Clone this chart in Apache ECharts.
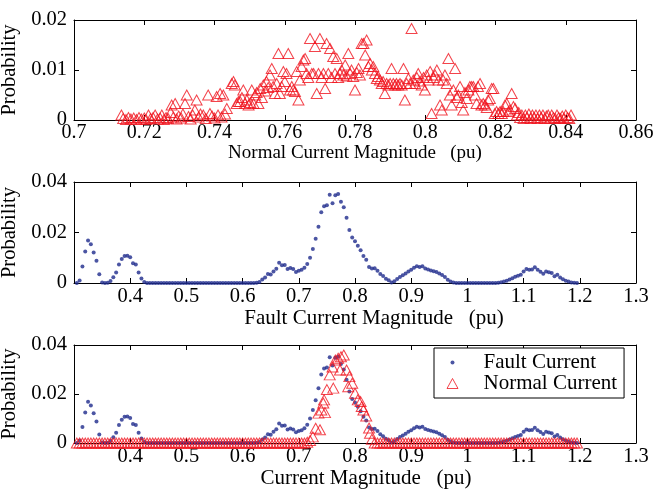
<!DOCTYPE html>
<html><head><meta charset="utf-8">
<script src="https://cdn.jsdelivr.net/npm/echarts@6/dist/echarts.min.js"></script>
<style>html,body{margin:0;padding:0;background:#fff}#c{width:657px;height:489px}</style>
</head><body><div id="c"></div>
<script>
// ---- Top panel: normal current magnitude distribution (x, probability)
const normalTop = [
[0.7135,0.0010],[0.7140,0.0003],[0.7148,0.0001],[0.7155,0.0005],[0.7162,0.0002],[0.7170,0.0004],[0.7178,0.0001],[0.7185,0.0005],[0.7192,0.0002],[0.7200,0.0004],
[0.7205,0.0001],[0.7212,0.0010],[0.7218,0.0003],[0.7225,0.0005],[0.7231,0.0010],[0.7238,0.0002],[0.7245,0.0004],[0.7250,0.0010],[0.7256,0.0001],[0.7262,0.0005],
[0.7268,0.0003],[0.7275,0.0015],[0.7278,0.0030],[0.7283,0.0006],[0.7288,0.0033],[0.7292,0.0002],[0.7298,0.0008],[0.7305,0.0004],[0.7310,0.0012],[0.7316,0.0033],
[0.7321,0.0050],[0.7326,0.0007],[0.7332,0.0002],[0.7338,0.0010],[0.7344,0.0020],[0.7349,0.0040],[0.7355,0.0006],[0.7360,0.0012],[0.7368,0.0010],[0.7375,0.0003],
[0.7382,0.0050],[0.7387,0.0013],[0.7393,0.0008],[0.7400,0.0004],[0.7406,0.0047],[0.7410,0.0010],[0.7416,0.0053],[0.7420,0.0006],[0.7425,0.0050],[0.7430,0.0012],
[0.7435,0.0023],[0.7449,0.0073],[0.7454,0.0077],[0.7458,0.0070],[0.7463,0.0033],[0.7468,0.0037],[0.7473,0.0037],[0.7478,0.0045],[0.7482,0.0060],[0.7487,0.0033],
[0.7492,0.0040],[0.7497,0.0030],[0.7502,0.0035],[0.7506,0.0060],[0.7511,0.0033],[0.7516,0.0050],[0.7520,0.0055],[0.7525,0.0033],[0.7530,0.0063],[0.7535,0.0045],
[0.7539,0.0070],[0.7544,0.0058],[0.7548,0.0077],[0.7553,0.0065],[0.7558,0.0090],[0.7563,0.0103],[0.7567,0.0067],[0.7572,0.0053],[0.7577,0.0073],[0.7582,0.0133],
[0.7586,0.0053],[0.7591,0.0067],[0.7596,0.0097],[0.7600,0.0077],[0.7605,0.0093],[0.7610,0.0133],[0.7615,0.0060],[0.7620,0.0067],[0.7624,0.0060],[0.7629,0.0057],
[0.7634,0.0097],[0.7639,0.0040],[0.7643,0.0080],[0.7648,0.0107],[0.7653,0.0120],[0.7658,0.0123],[0.7662,0.0093],[0.7667,0.0085],[0.7672,0.0163],[0.7677,0.0093],
[0.7682,0.0093],[0.7686,0.0147],[0.7691,0.0053],[0.7696,0.0093],[0.7700,0.0163],[0.7705,0.0085],[0.7710,0.0093],[0.7715,0.0063],[0.7719,0.0153],[0.7724,0.0093],
[0.7729,0.0143],[0.7733,0.0085],[0.7738,0.0127],[0.7743,0.0093],[0.7748,0.0123],[0.7752,0.0085],[0.7757,0.0093],[0.7762,0.0100],[0.7767,0.0090],[0.7772,0.0110],
[0.7776,0.0088],[0.7781,0.0133],[0.7786,0.0093],[0.7790,0.0100],[0.7795,0.0087],[0.7800,0.0060],[0.7805,0.0095],[0.7810,0.0103],[0.7814,0.0090],[0.7819,0.0153],
[0.7824,0.0153],[0.7829,0.0130],[0.7833,0.0160],[0.7838,0.0107],[0.7843,0.0113],[0.7848,0.0100],[0.7852,0.0107],[0.7857,0.0093],[0.7862,0.0083],[0.7866,0.0087],
[0.7871,0.0080],[0.7876,0.0073],[0.7880,0.0077],[0.7885,0.0053],[0.7890,0.0073],[0.7895,0.0070],[0.7900,0.0073],[0.7904,0.0103],[0.7909,0.0073],[0.7914,0.0070],
[0.7918,0.0073],[0.7923,0.0070],[0.7928,0.0073],[0.7933,0.0070],[0.7938,0.0103],[0.7942,0.0040],[0.7947,0.0073],[0.7952,0.0083],[0.7957,0.0073],[0.7961,0.0183],
[0.7966,0.0080],[0.7971,0.0073],[0.7976,0.0085],[0.7980,0.0093],[0.7985,0.0078],[0.7990,0.0070],[0.7995,0.0085],[0.7999,0.0060],[0.8004,0.0090],[0.8009,0.0080],
[0.8014,0.0097],[0.8018,0.0013],[0.8023,0.0085],[0.8028,0.0090],[0.8033,0.0100],[0.8038,0.0080],[0.8042,0.0030],[0.8047,0.0020],[0.8051,0.0080],[0.8056,0.0090],
[0.8061,0.0073],[0.8066,0.0123],[0.8070,0.0050],[0.8075,0.0030],[0.8080,0.0060],[0.8085,0.0103],[0.8090,0.0045],[0.8094,0.0050],[0.8099,0.0067],[0.8104,0.0035],
[0.8108,0.0020],[0.8113,0.0055],[0.8118,0.0043],[0.8123,0.0060],[0.8127,0.0067],[0.8132,0.0067],[0.8137,0.0067],[0.8142,0.0050],[0.8146,0.0033],[0.8150,0.0067],
[0.8156,0.0073],[0.8160,0.0030],[0.8165,0.0033],[0.8170,0.0030],[0.8175,0.0025],[0.8179,0.0040],[0.8184,0.0043],[0.8189,0.0063],[0.8194,0.0063],[0.8198,0.0013],
[0.8203,0.0017],[0.8208,0.0013],[0.8213,0.0017],[0.8218,0.0013],[0.8222,0.0017],[0.8227,0.0030],[0.8232,0.0033],[0.8237,0.0017],[0.8241,0.0020],[0.8246,0.0053],
[0.8251,0.0027],[0.8256,0.0023],[0.8261,0.0010],[0.8266,0.0015],[0.8270,0.0005],[0.8275,0.0010],[0.8280,0.0003],[0.8285,0.0010],[0.8290,0.0005],[0.8295,0.0012],
[0.8300,0.0003],[0.8305,0.0010],[0.8310,0.0005],[0.8315,0.0010],[0.8320,0.0003],[0.8325,0.0010],[0.8330,0.0005],[0.8335,0.0010],[0.8340,0.0003],[0.8345,0.0008],
[0.8350,0.0010],[0.8355,0.0003],[0.8360,0.0010],[0.8365,0.0005],[0.8370,0.0003],[0.8375,0.0010],[0.8380,0.0005],[0.8385,0.0003],[0.8390,0.0008],[0.8395,0.0003],
[0.8400,0.0010],[0.8405,0.0005],[0.8410,0.0003],[0.8415,0.0010]
];

// ---- Shared magnitude grid (pu) for middle and bottom panels
const gridX = [
0.305,0.310,0.315,0.320,0.325,0.330,0.335,0.340,0.345,0.350,
0.355,0.360,0.365,0.370,0.375,0.380,0.385,0.390,0.395,0.400,
0.405,0.410,0.415,0.420,0.425,0.430,0.435,0.440,0.445,0.450,
0.455,0.460,0.465,0.470,0.475,0.480,0.485,0.490,0.495,0.500,
0.505,0.510,0.515,0.520,0.525,0.530,0.535,0.540,0.545,0.550,
0.555,0.560,0.565,0.570,0.575,0.580,0.585,0.590,0.595,0.600,
0.605,0.610,0.615,0.620,0.625,0.630,0.635,0.640,0.645,0.650,
0.655,0.660,0.665,0.670,0.675,0.680,0.685,0.690,0.695,0.700,
0.705,0.710,0.715,0.720,0.725,0.730,0.735,0.740,0.745,0.750,
0.755,0.760,0.765,0.770,0.775,0.780,0.785,0.790,0.795,0.800,
0.805,0.810,0.815,0.820,0.825,0.830,0.835,0.840,0.845,0.850,
0.855,0.860,0.865,0.870,0.875,0.880,0.885,0.890,0.895,0.900,
0.905,0.910,0.915,0.920,0.925,0.930,0.935,0.940,0.945,0.950,
0.955,0.960,0.965,0.970,0.975,0.980,0.985,0.990,0.995,1.000,
1.005,1.010,1.015,1.020,1.025,1.030,1.035,1.040,1.045,1.050,
1.055,1.060,1.065,1.070,1.075,1.080,1.085,1.090,1.095,1.100,
1.105,1.110,1.115,1.120,1.125,1.130,1.135,1.140,1.145,1.150,
1.155,1.160,1.165,1.170,1.175,1.180,1.185,1.190,1.195
];

// Fault current probability on gridX
const faultY = [
0,0.0010,0.0065,0.0125,0.0168,0.0153,0.0121,0.0088,0.0035,0.0002,
0,0.0001,0.0008,0.0023,0.0042,0.0073,0.0095,0.0107,0.0108,0.0102,
0.0078,0.0073,0.0042,0.0018,0.0004,0,0,0,0,0,
0,0,0,0,0,0,0,0,0,0,
0,0,0,0,0,0,0,0,0,0,
0,0,0,0,0,0,0,0,0,0,
0,0,0,0,0.0001,0.0004,0.0014,0.0022,0.0036,0.0034,
0.0046,0.0056,0.0080,0.0070,0.0071,0.0055,0.0059,0.0055,0.0044,0.0049,
0.0052,0.0060,0.0075,0.0100,0.0135,0.0175,0.0223,0.0280,0.0304,0.0308,
0.0350,0.0316,0.0348,0.0352,0.0322,0.0300,0.0258,0.0210,0.0180,0.0165,
0.0148,0.0130,0.0107,0.0092,0.0063,0.0057,0.0058,0.0049,0.0036,0.0028,
0.0017,0.0011,0.0002,0.0007,0.0016,0.0024,0.0031,0.0038,0.0046,0.0052,
0.0060,0.0066,0.0063,0.0066,0.0057,0.0053,0.0050,0.0047,0.0044,0.0038,
0.0032,0.0024,0.0013,0.0006,0.0002,0,0,0,0,0,
0,0,0,0,0,0,0,0,0,0,
0.0001,0.0003,0.0006,0.0009,0.0014,0.0019,0.0025,0.0029,0.0033,0.0046,
0.0055,0.0052,0.0053,0.0062,0.0052,0.0045,0.0037,0.0046,0.0043,0.0040,
0.0027,0.0033,0.0022,0.0015,0.0009,0.0006,0.0002,0.0001,0
];

// Normal current probability on gridX (bottom panel)
const normalBottomY = [
0,0,0,0,0,0,0,0,0,0,
0,0,0,0,0,0,0,0,0,0,
0,0,0,0,0,0,0,0,0,0,
0,0,0,0,0,0,0,0,0,0,
0,0,0,0,0,0,0,0,0,0,
0,0,0,0,0,0,0,0,0,0,
0,0,0,0,0,0,0,0,0,0,
0,0,0,0,0,0,0,0,0,0,
0,0,0.0003,0.0010,0.0025,0.0060,0.0122,0.0135,0.0176,0.0218,
0.0278,0.0310,0.0339,0.0346,0.0352,0.0359,0.0298,0.0271,0.0244,0.0203,
0.0176,0.0169,0.0135,0.0110,0.0061,0.0015,0,0,0,0,
0,0,0,0,0,0,0,0,0,0,
0,0,0,0,0,0,0,0,0,0,
0,0,0,0,0,0,0,0,0,0,
0,0,0,0,0,0,0,0,0,0,
0,0,0,0,0,0,0,0,0,0,
0,0,0,0,0,0,0,0,0,0,
0,0,0,0,0,0,0,0,0
];
// Extra scattered normal-current samples in the bottom panel
const normalBottomExtra = [
[0.7377,0.0054],[0.7436,0.0163],[0.7466,0.0124],[0.7614,0.0224],[0.7733,0.0298],
[0.7880,0.0230],[0.8120,0.0149],[0.8267,0.0040]
];

// Axis ranges [min, max, interval]
const topXRange = [0.7, 0.86, 0.02];
const topYRange = [0, 0.02, 0.01];
const wideXRange = [0.3, 1.3, 0.1];
const wideYRange = [0, 0.04, 0.02];
const axisTitles = ['Normal Current Magnitude   (pu)', 'Fault Current Magnitude   (pu)', 'Current Magnitude   (pu)'];
const seriesNames = ['Fault Current', 'Normal Current'];

const RED = '#f0141e';
const BLUE = '#1e2b8c';
const FONT = 'Liberation Serif';

function xAxes(gi, r, title, showMin, padLeft, labelSize, titleSize) {
  const base = {
    gridIndex: gi, type: 'value', min: r[0], max: r[1], interval: r[2],
    axisLine: { show: true, onZero: false, lineStyle: { color: '#000', width: 1 } },
    axisTick: { show: true, inside: true, length: 5, lineStyle: { color: '#000', width: 1 } },
    splitLine: { show: false }
  };
  return [
    Object.assign({}, base, {
      position: 'bottom',
      axisLabel: { show: true, showMinLabel: showMin, margin: 3, fontSize: labelSize, fontFamily: FONT, color: '#000' },
      name: title, nameLocation: 'middle', nameGap: 21,
      nameTextStyle: { fontSize: titleSize, fontFamily: FONT, color: '#000', padding: [0, 0, 0, padLeft] }
    }),
    Object.assign({}, base, { position: 'top', axisLabel: { show: false } })
  ];
}
function yAxes(gi, r) {
  const base = {
    gridIndex: gi, type: 'value', min: r[0], max: r[1], interval: r[2],
    axisLine: { show: true, onZero: false, lineStyle: { color: '#000', width: 1 } },
    axisTick: { show: true, inside: true, length: 5, lineStyle: { color: '#000', width: 1 } },
    splitLine: { show: false }
  };
  return [
    Object.assign({}, base, {
      position: 'left',
      axisLabel: { show: true, margin: 7, fontSize: 20.5, fontFamily: FONT, color: '#000' },
      name: 'Probability', nameLocation: 'middle', nameGap: 38, nameRotate: 90,
      nameTextStyle: { fontSize: 20.5, fontFamily: FONT, color: '#000' }
    }),
    Object.assign({}, base, { position: 'right', axisLabel: { show: false } })
  ];
}

const triStyle = { color: 'rgba(255,255,255,0)', borderColor: RED, borderWidth: 1 };
const dotStyle = { color: BLUE, borderWidth: 0 };

const faultData = gridX.map((x, i) => [x, faultY[i]]);
const normalBottomData = gridX.map((x, i) => [x, normalBottomY[i]]).concat(normalBottomExtra);

const chart = echarts.init(document.getElementById('c'), null, { renderer: 'canvas' });
chart.setOption({
  animation: false,
  backgroundColor: '#fff',
  grid: [
    { left: 74, right: 21, top: 20, height: 100, outerBoundsMode: 'none', containLabel: false },
    { left: 74, right: 21, top: 182, height: 101, outerBoundsMode: 'none', containLabel: false },
    { left: 74, right: 21, top: 345, height: 98, outerBoundsMode: 'none', containLabel: false }
  ],
  xAxis: [].concat(
    xAxes(0, topXRange, axisTitles[0], true, 0, 20, 19),
    xAxes(1, wideXRange, axisTitles[1], false, 38, 20.5, 21),
    xAxes(2, wideXRange, axisTitles[2], false, 22, 20.5, 21)
  ),
  yAxis: [].concat(yAxes(0, topYRange), yAxes(1, wideYRange), yAxes(2, wideYRange)),
  legend: {
    data: [
      { name: seriesNames[0], icon: 'path://M0,0M14,12M7,4A2,2,0,1,1,7,8A2,2,0,1,1,7,4Z', itemStyle: dotStyle },
      { name: seriesNames[1], icon: 'path://M0,0M14,12M1.5,11L7,1L12.5,11Z', itemStyle: triStyle }
    ],
    orient: 'vertical', left: 434, top: 348,
    padding: [4, 7, 4, 11], itemWidth: 14, itemHeight: 12, itemGap: 0,
    borderColor: '#000', borderWidth: 1, backgroundColor: '#fff',
    selectedMode: false,
    textStyle: { fontSize: 21, fontFamily: FONT, color: '#000', lineHeight: 21, padding: [0, 0, 0, 19] }
  },
  series: [
    { type: 'scatter', name: 'Normal Current (top)', xAxisIndex: 0, yAxisIndex: 0, data: normalTop,
      symbol: 'triangle', symbolSize: [11, 10], itemStyle: triStyle, z: 3 },
    { type: 'scatter', name: 'Fault Current (middle)', xAxisIndex: 2, yAxisIndex: 2, data: faultData,
      symbol: 'circle', symbolSize: 4, itemStyle: dotStyle },
    { type: 'scatter', name: seriesNames[0], xAxisIndex: 4, yAxisIndex: 4, data: faultData,
      symbol: 'circle', symbolSize: 4, itemStyle: dotStyle },
    { type: 'scatter', name: seriesNames[1], xAxisIndex: 4, yAxisIndex: 4, data: normalBottomData,
      symbol: 'triangle', symbolSize: [11, 10], itemStyle: triStyle, z: 3 }
  ]
});
</script></body></html>
